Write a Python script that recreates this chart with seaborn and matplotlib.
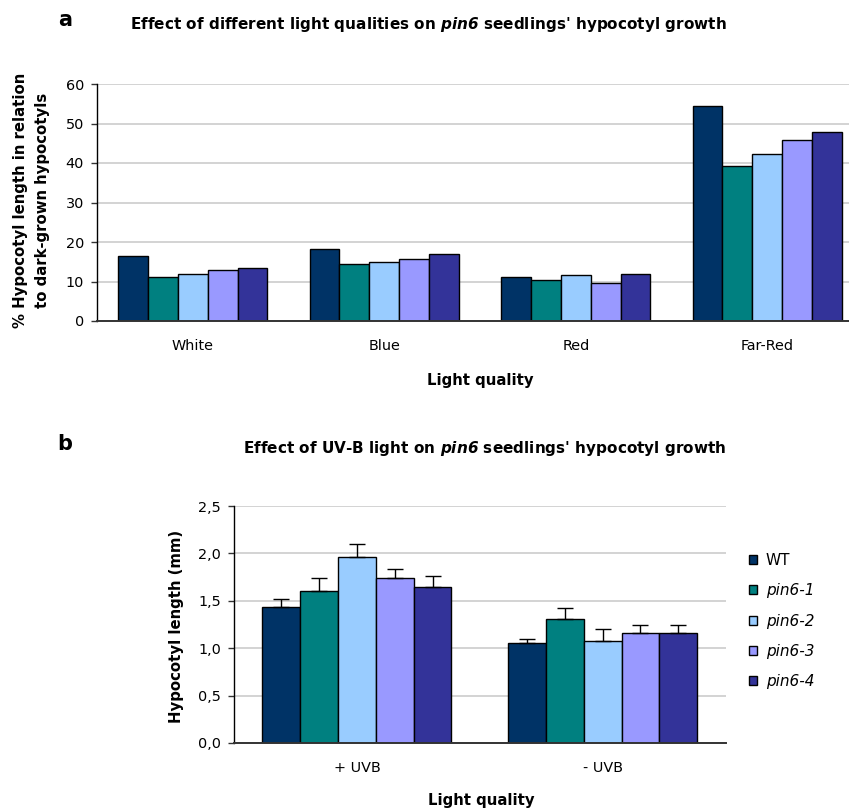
import matplotlib
matplotlib.use("Agg")
import matplotlib.pyplot as plt
import seaborn as sns
import pandas as pd
import numpy as np

# ---------------- data ----------------
genotypes = ["WT", "pin6-1", "pin6-2", "pin6-3", "pin6-4"]
colors = ["#003366", "#008080", "#99CCFF", "#9999FF", "#333399"]

light_a = ["White", "Blue", "Red", "Far-Red"]
wt_a = [16.5, 18.2, 11.2, 54.4]
p1_a = [11.2, 14.5, 10.5, 39.2]
p2_a = [12.0, 14.9, 11.6, 42.3]
p3_a = [12.8, 15.7, 9.7, 45.9]
p4_a = [13.3, 16.9, 12.0, 47.9]

light_b = ["+ UVB", "- UVB"]
wt_b = [1.43, 1.05]
p1_b = [1.60, 1.31]
p2_b = [1.96, 1.08]
p3_b = [1.74, 1.16]
p4_b = [1.65, 1.16]
wt_err = [0.09, 0.05]
p1_err = [0.14, 0.11]
p2_err = [0.14, 0.12]
p3_err = [0.10, 0.09]
p4_err = [0.11, 0.09]

ticks_a = [0, 10, 20, 30, 40, 50, 60]
ticks_b = [0.0, 0.5, 1.0, 1.5, 2.0, 2.5]
tick_labels_b = ["0,0", "0,5", "1,0", "1,5", "2,0", "2,5"]

# ---------------- build tables ----------------
vals_a = [wt_a, p1_a, p2_a, p3_a, p4_a]
vals_b = [wt_b, p1_b, p2_b, p3_b, p4_b]
errs_b = [wt_err, p1_err, p2_err, p3_err, p4_err]

df_a = pd.DataFrame([
    {"light": l, "genotype": g, "value": v}
    for g, vs in zip(genotypes, vals_a) for l, v in zip(light_a, vs)
])
df_b = pd.DataFrame([
    {"light": l, "genotype": g, "value": v}
    for g, vs in zip(genotypes, vals_b) for l, v in zip(light_b, vs)
])

sns.set_theme(style="white")
plt.rcParams["font.family"] = ["DejaVu Sans"]
plt.rcParams["mathtext.fontset"] = "dejavusans"
plt.rcParams["text.color"] = "black"
plt.rcParams["axes.labelcolor"] = "black"
plt.rcParams["xtick.color"] = "black"
plt.rcParams["ytick.color"] = "black"

fig = plt.figure(figsize=(8.49, 8.09), dpi=100)
W, H = 849, 809

def place(left, top, right, bottom):
    return [left / W, 1 - bottom / H, (right - left) / W, (bottom - top) / H]

A_L, A_T, A_R, A_B = 97, 84, 97 + 4 * 191.5, 321
B_L, B_T, B_R, B_B = 234, 506, 725.5, 743
ax_a = fig.add_axes(place(A_L, A_T, A_R, A_B))
ax_b = fig.add_axes(place(B_L, B_T, B_R, B_B))

grid_col = "#cccccc"
TICK_FS = 10.4
LAB_FS = 10.7

def style_axis(ax, ncat):
    ax.set_xlim(-0.5, ncat - 0.5)
    ax.yaxis.grid(True, color=grid_col, linewidth=1.2)
    ax.set_axisbelow(True)
    for s in ["top", "right"]:
        ax.spines[s].set_visible(False)
    ax.spines["left"].set_color("black")
    ax.spines["bottom"].set_color("#333333")
    ax.spines["left"].set_linewidth(1.0)
    ax.spines["bottom"].set_linewidth(1.4)
    ax.set_xticks(np.arange(ncat))
    ax.set_xticks(np.arange(ncat + 1) - 0.5, minor=True)
    ax.tick_params(axis="x", which="major", length=0, pad=13, labelsize=TICK_FS,
                   labelcolor="black")
    ax.tick_params(axis="x", which="minor", length=4.3, width=1, color="#333333", direction="out")
    ax.tick_params(axis="y", which="major", length=4.3, width=1, color="#333333",
                   direction="out", labelsize=TICK_FS, pad=5, left=True, labelcolor="black")

def place_labels(ax, L, T, R, B, xl_x, xl_y, yl_x, yl_y):
    ax.xaxis.label.set_va("center")
    ax.yaxis.label.set_va("center")
    ax.xaxis.set_label_coords((xl_x - L) / (R - L), (B - xl_y) / (B - T))
    ax.yaxis.set_label_coords((yl_x - L) / (R - L), (B - yl_y) / (B - T))

# ---------- panel a ----------
sns.barplot(data=df_a, x="light", y="value", hue="genotype", order=light_a,
            hue_order=genotypes, palette=colors, width=0.78, ax=ax_a,
            edgecolor="black", linewidth=1.0, legend=False, errorbar=None, saturation=1)
style_axis(ax_a, len(light_a))
ax_a.set_ylim(0, 60)
ax_a.set_yticks(ticks_a)
ax_a.set_yticklabels([str(t) for t in ticks_a])
ax_a.set_xlabel("Light quality", fontsize=LAB_FS, fontweight="bold", color="black")
ax_a.set_ylabel("% Hypocotyl length in relation\nto dark-grown hypocotyls",
                fontsize=LAB_FS, fontweight="bold", linespacing=1.55, color="black")
place_labels(ax_a, A_L, A_T, A_R, A_B, 480.5, 381, 31.5, 200)

fig.text(65 / W, 1 - 20 / H, "a", fontsize=15, fontweight="bold", ha="center", va="center",
         color="black")
fig.text(130 / W, 1 - 25 / H,
         r"Effect of different light qualities on $\mathbfit{pin6}$ seedlings' hypocotyl growth",
         fontsize=11, fontweight="bold", ha="left", va="center", color="black")

# ---------- panel b ----------
sns.barplot(data=df_b, x="light", y="value", hue="genotype", order=light_b,
            hue_order=genotypes, palette=colors, width=0.77, ax=ax_b,
            edgecolor="black", linewidth=1.0, errorbar=None, saturation=1)
for cont, err in zip(ax_b.containers, errs_b):
    xs = [r.get_x() + r.get_width() / 2 for r in cont]
    ys = [r.get_height() for r in cont]
    ax_b.errorbar(xs, ys, yerr=[np.zeros(len(err)), err], fmt="none",
                  ecolor="black", elinewidth=1.0, capsize=5.5, capthick=1.0, zorder=3)
style_axis(ax_b, len(light_b))
ax_b.set_ylim(0, 2.5)
ax_b.set_yticks(ticks_b)
ax_b.set_yticklabels(tick_labels_b)
ax_b.set_xlabel("Light quality", fontsize=LAB_FS, fontweight="bold", color="black")
ax_b.set_ylabel("Hypocotyl length (mm)", fontsize=LAB_FS, fontweight="bold", color="black")
place_labels(ax_b, B_L, B_T, B_R, B_B, 481, 800, 177, 626)

leg = ax_b.legend(loc="upper left", bbox_to_anchor=(749 / W, 1 - 553 / H),
                  bbox_transform=fig.transFigure, frameon=False,
                  fontsize=11, handlelength=0.55, handleheight=0.55, handletextpad=0.55,
                  labelspacing=1.0, borderaxespad=0, borderpad=0)
for t in leg.get_texts():
    t.set_color("black")
    if t.get_text() != "WT":
        t.set_fontstyle("italic")
for h in leg.legend_handles:
    h.set_edgecolor("black")
    h.set_linewidth(1.0)

fig.text(65 / W, 1 - 444 / H, "b", fontsize=15, fontweight="bold", ha="center", va="center",
         color="black")
fig.text(243 / W, 1 - 449 / H,
         r"Effect of UV-B light on $\mathbfit{pin6}$ seedlings' hypocotyl growth",
         fontsize=11, fontweight="bold", ha="left", va="center", color="black")

fig.savefig("out.png", dpi=100)
